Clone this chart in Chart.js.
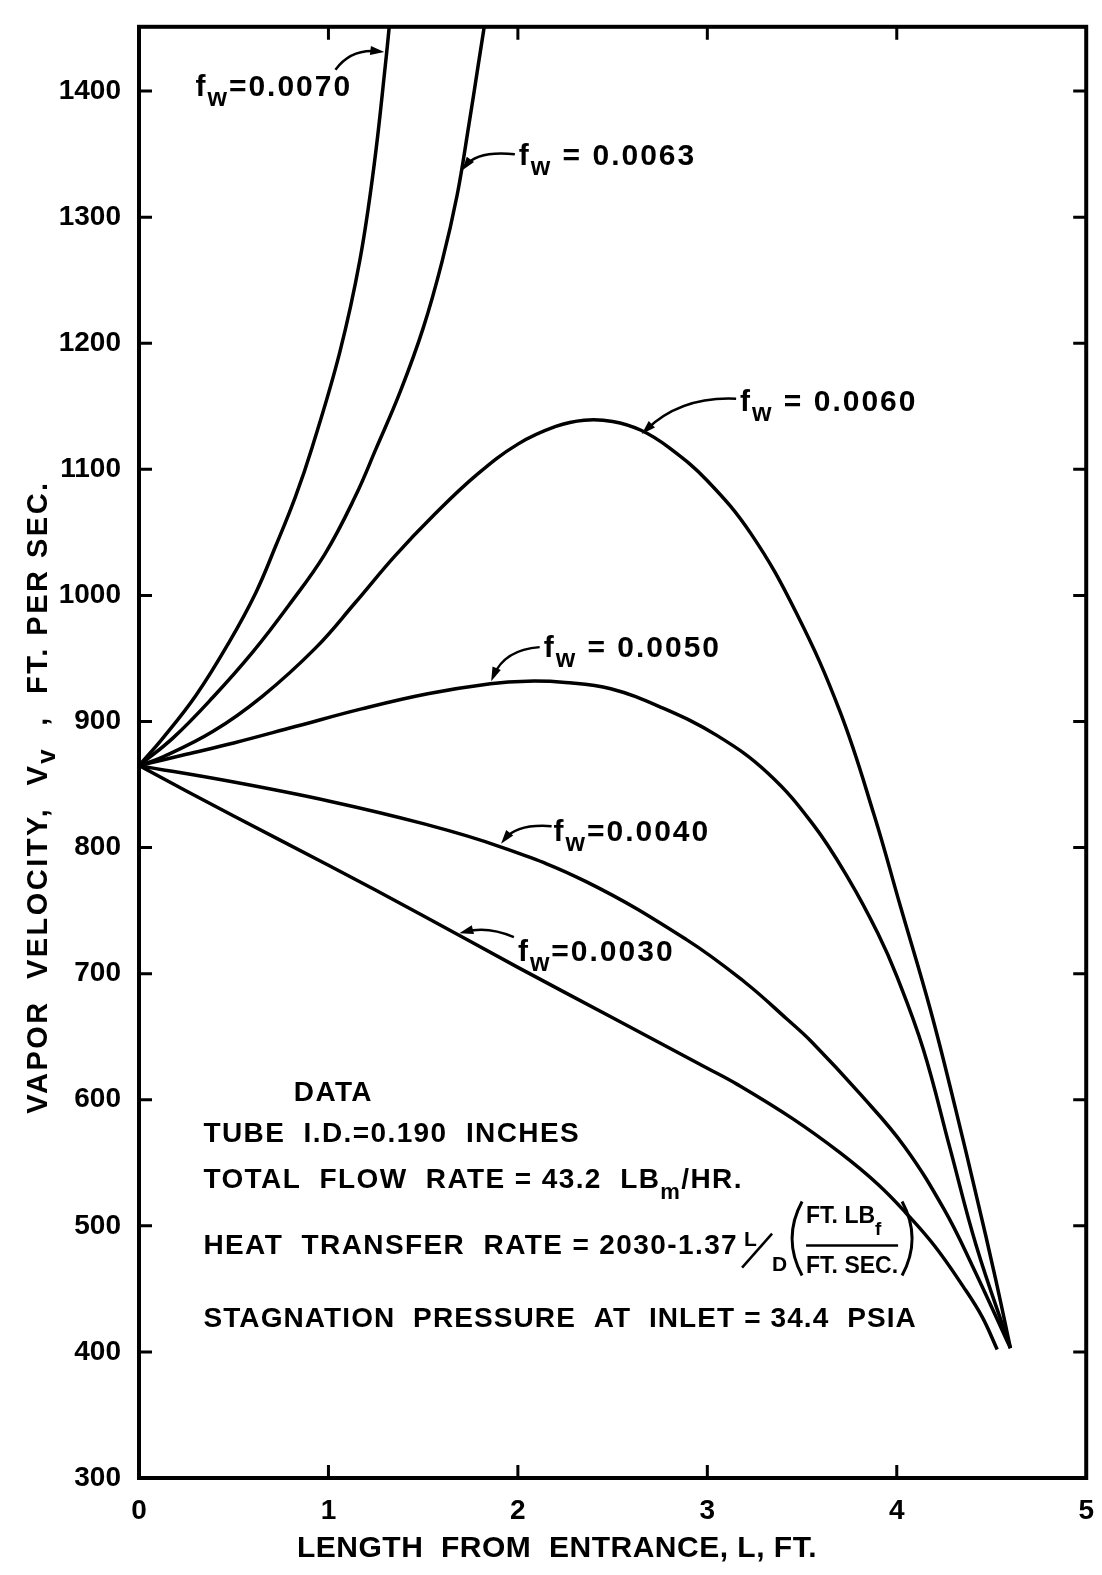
<!DOCTYPE html>
<html>
<head>
<meta charset="utf-8">
<script src="https://cdn.jsdelivr.net/npm/chart.js@4.4.1/dist/chart.umd.min.js"></script>
<style>
  html, body { margin: 0; padding: 0; background: #fff; }
  #wrap { width: 1102px; height: 1575px; position: relative; }
</style>
</head>
<body>
<div id="wrap"><canvas id="chart"></canvas></div>
<script>
// Vapor velocity along the tube, one curve per wall friction factor f_w
const xTicks = [0, 1, 2, 3, 4, 5];
const yTicks = [300, 400, 500, 600, 700, 800, 900, 1000, 1100, 1200, 1300, 1400];

// length from entrance (ft) / vapor velocity (ft per sec)
const fw0070X = [0, 0.127, 0.302, 0.476, 0.616, 0.721, 0.825, 0.913, 1.06, 1.166, 1.24, 1.30, 1.33];
const fw0070V = [865, 887, 921, 963, 1002, 1039, 1078, 1117, 1193, 1266, 1340, 1420, 1465];

const fw0063X = [0, 0.18, 0.389, 0.6, 0.79, 0.982, 1.14, 1.253, 1.38, 1.50, 1.60, 1.68, 1.74, 1.79, 1.84];
const fw0063V = [865, 887, 919, 955, 992, 1033, 1078, 1117, 1162, 1212, 1265, 1318, 1372, 1420, 1468];

const fw0060X = [0, 0.127, 0.389, 0.651, 0.93, 1.14, 1.349, 1.558, 1.785, 2.0, 2.2, 2.35, 2.5, 2.65, 2.8, 3.0, 3.23, 3.47, 3.7, 3.88, 4.02, 4.18, 4.31, 4.42, 4.52, 4.6];
const fw0060V = [865, 872, 892, 920, 958, 994, 1031, 1064, 1096, 1120, 1134, 1139, 1138, 1131, 1117, 1091, 1049, 986, 908, 826, 753, 670, 593, 524, 459, 403];

const fw0050X = [0, 0.25, 0.5, 0.825, 1.175, 1.524, 1.855, 2.05, 2.25, 2.49, 2.76, 3.05, 3.32, 3.56, 3.75, 3.9, 4.0, 4.14, 4.28, 4.42, 4.6];
const fw0050V = [865, 874, 883, 896, 910, 922, 930, 932, 931, 926, 911, 889, 859, 818, 774, 732, 698, 640, 562, 484, 403];

const fw0040X = [0, 0.5, 1.0, 1.5, 1.9, 2.36, 2.89, 3.2, 3.42, 3.55, 3.81, 4.04, 4.25, 4.4, 4.6];
const fw0040V = [865, 852, 837, 819, 801, 773, 727, 693, 664, 646, 604, 563, 513, 468, 403];

const fw0030X = [0, 0.5, 1.0, 1.5, 2.0, 2.5, 3.0, 3.16, 3.45, 3.7, 3.9, 4.05, 4.2, 4.35, 4.45, 4.53];
const fw0030V = [865, 825, 786, 746, 705, 665, 625, 612, 585, 558, 533, 510, 484, 452, 428, 402];

const series = [
  { name: '0.0070', xs: fw0070X, vs: fw0070V },
  { name: '0.0063', xs: fw0063X, vs: fw0063V },
  { name: '0.0060', xs: fw0060X, vs: fw0060V },
  { name: '0.0050', xs: fw0050X, vs: fw0050V },
  { name: '0.0040', xs: fw0040X, vs: fw0040V },
  { name: '0.0030', xs: fw0030X, vs: fw0030V }
];

// curve labels, placed in data units: text start, arrow start, control, tip
const curveLabels = [
  { text: '=0.0070', at: [0.298, 1396], from: [1.037, 1417], ctrl: [1.12, 1434], tip: [1.295, 1431] },
  { text: ' = 0.0063', at: [2.005, 1341], from: [1.984, 1350], ctrl: [1.785, 1353], tip: [1.705, 1337] },
  { text: ' = 0.0060', at: [3.173, 1146], from: [3.152, 1156], ctrl: [2.86, 1158], tip: [2.654, 1128] },
  { text: ' = 0.0050', at: [2.136, 951], from: [2.115, 959], ctrl: [1.93, 957], tip: [1.859, 932] },
  { text: '=0.0040', at: [2.188, 805], from: [2.178, 817], ctrl: [1.995, 819], tip: [1.911, 803] },
  { text: '=0.0030', at: [2.0, 710], from: [1.979, 729], ctrl: [1.84, 738], tip: [1.691, 732] }
];

const FAM = '"Liberation Sans", Arial, sans-serif';
const font = size => `bold ${size}px ${FAM}`;

// draw consecutive text pieces (for subscripts), returns end x
function runs(ctx, parts, x0, y0, spacing) {
  let x = x0;
  parts.forEach(p => {
    ctx.font = font(p.size);
    ctx.letterSpacing = (p.ls !== undefined ? p.ls : spacing) + 'px';
    ctx.fillText(p.t, x, y0 + (p.dy || 0));
    x += ctx.measureText(p.t).width;
  });
  return x;
}

function arrow(ctx, p0, c, p1) {
  const ang = Math.atan2(p1[1] - c[1], p1[0] - c[0]);
  const L = 14, W = 4.5;
  const cs = Math.cos(ang), sn = Math.sin(ang);
  ctx.beginPath();
  ctx.moveTo(p0[0], p0[1]);
  ctx.quadraticCurveTo(c[0], c[1], p1[0] - cs * 6, p1[1] - sn * 6);
  ctx.stroke();
  ctx.beginPath();
  ctx.moveTo(p1[0], p1[1]);
  ctx.lineTo(p1[0] - L * cs + W * sn, p1[1] - L * sn - W * cs);
  ctx.lineTo(p1[0] - L * cs - W * sn, p1[1] - L * sn + W * cs);
  ctx.closePath();
  ctx.fill();
}

const decorations = {
  id: 'decorations',
  afterDraw(chart) {
    const { ctx, chartArea: a, scales: { x, y } } = chart;
    const P = (dx, dv) => [x.getPixelForValue(dx), y.getPixelForValue(dv)];
    ctx.save();
    ctx.strokeStyle = '#000';
    ctx.fillStyle = '#000';
    ctx.lineCap = 'butt';

    // frame
    ctx.lineWidth = 4;
    ctx.strokeRect(a.left, a.top, a.right - a.left, a.bottom - a.top);

    // inward tick marks on all four sides
    const tl = 13;
    ctx.lineWidth = 3;
    ctx.beginPath();
    yTicks.forEach(v => {
      if (v === 300) return;
      const py = y.getPixelForValue(v);
      ctx.moveTo(a.left, py); ctx.lineTo(a.left + tl, py);
      ctx.moveTo(a.right, py); ctx.lineTo(a.right - tl, py);
    });
    xTicks.forEach(v => {
      if (v === 0 || v === 5) return;
      const px = x.getPixelForValue(v);
      ctx.moveTo(px, a.bottom); ctx.lineTo(px, a.bottom - tl);
      ctx.moveTo(px, a.top); ctx.lineTo(px, a.top + tl);
    });
    ctx.stroke();

    ctx.textAlign = 'left';
    ctx.textBaseline = 'alphabetic';

    // curve labels with arrows
    ctx.lineWidth = 2.5;
    curveLabels.forEach(l => {
      const [tx, ty] = P(l.at[0], l.at[1]);
      runs(ctx, [{ t: 'f', size: 30 }, { t: 'w', size: 25, dy: 10 }, { t: l.text, size: 30 }], tx, ty, 2);
      arrow(ctx, P(...l.from), P(...l.ctrl), P(...l.tip));
    });

    // data block
    let [bx, by] = P(0.817, 599);
    runs(ctx, [{ t: 'DATA', size: 28 }], bx, by, 1.4);
    [bx, by] = P(0.34, 566.7);
    runs(ctx, [{ t: 'TUBE  I.D.=0.190  INCHES', size: 28 }], bx, by, 1.4);
    [bx, by] = P(0.34, 529.7);
    runs(ctx, [{ t: 'TOTAL  FLOW  RATE = 43.2  LB', size: 28 }, { t: 'm', size: 22, dy: 11 }, { t: '/HR.', size: 28 }], bx, by, 1.4);
    [bx, by] = P(0.34, 419.6);
    runs(ctx, [{ t: 'STAGNATION  PRESSURE  AT  INLET = 34.4  PSIA', size: 28 }], bx, by, 1.1);

    // heat transfer line with L/D and the unit fraction
    let B;
    [bx, B] = P(0.34, 478);
    const xe = runs(ctx, [{ t: 'HEAT  TRANSFER  RATE = 2030-1.37', size: 28 }], bx, B, 1.4);
    const x0 = xe + 4;
    runs(ctx, [{ t: 'L', size: 21 }], x0 + 2, B - 8, 0);
    runs(ctx, [{ t: 'D', size: 21 }], x0 + 30, B + 17, 0);
    ctx.lineWidth = 2.5;
    ctx.beginPath(); ctx.moveTo(x0, B + 14); ctx.lineTo(x0 + 30, B - 20); ctx.stroke();
    const p = x0 + 50;
    ctx.lineWidth = 3;
    ctx.beginPath(); ctx.moveTo(p + 10, B - 52); ctx.quadraticCurveTo(p - 10, B - 15, p + 10, B + 22); ctx.stroke();
    const nx = p + 14;
    const ne = runs(ctx, [{ t: 'FT. LB', size: 23 }, { t: 'f', size: 19, dy: 12 }], nx, B - 31, 0);
    const de = runs(ctx, [{ t: 'FT. SEC.', size: 23 }], nx, B + 19, 0);
    const fr = Math.max(ne, de);
    ctx.lineWidth = 2.5;
    ctx.beginPath(); ctx.moveTo(nx, B - 8); ctx.lineTo(fr, B - 8); ctx.stroke();
    ctx.lineWidth = 3;
    ctx.beginPath(); ctx.moveTo(fr + 4, B - 52); ctx.quadraticCurveTo(fr + 24, B - 15, fr + 4, B + 22); ctx.stroke();

    // axis titles
    const xt = 'LENGTH  FROM  ENTRANCE, L, FT.';
    ctx.font = font(30);
    ctx.letterSpacing = '0.5px';
    const xw = ctx.measureText(xt).width;
    ctx.fillText(xt, 557 - xw / 2, 1557);

    ctx.translate(37, 797);
    ctx.rotate(-Math.PI / 2);
    const yParts = [
      { t: 'VAPOR  VELOCITY,  V', size: 29 },
      { t: 'v', size: 26, dy: 8 },
      { t: '  ,  FT. PER SEC.', size: 29 }
    ];
    let yw = 0;
    yParts.forEach(q => { ctx.font = font(q.size); ctx.letterSpacing = '2.5px'; yw += ctx.measureText(q.t).width; });
    runs(ctx, yParts, -yw / 2, 10, 2.5);
    ctx.restore();
  }
};

const ctxEl = document.getElementById('chart');
Chart.defaults.font.family = FAM;
Chart.defaults.color = '#000';

new Chart(ctxEl, {
  type: 'scatter',
  data: {
    datasets: series.map(s => ({
      label: 'f_w = ' + s.name,
      data: s.xs.map((xv, i) => ({ x: xv, y: s.vs[i] })),
      showLine: true,
      borderColor: '#000',
      borderWidth: 3.5,
      pointRadius: 0,
      fill: false,
      tension: 0.4,
      clip: 0
    }))
  },
  options: {
    responsive: true,
    maintainAspectRatio: false,
    animation: false,
    events: [],
    layout: { padding: { top: 15, right: 9, left: 0, bottom: 0 } },
    plugins: { legend: { display: false }, tooltip: { enabled: false } },
    scales: {
      x: {
        type: 'linear',
        min: 0,
        max: 5,
        grid: { display: false },
        border: { display: false },
        ticks: { stepSize: 1, padding: 8, font: { size: 28, weight: 'bold' }, color: '#000', maxRotation: 0,
                 callback: v => String(v) },
        afterFit: sc => { sc.height = 97; }
      },
      y: {
        type: 'linear',
        min: 300,
        max: 1451,
        grid: { display: false },
        border: { display: false },
        ticks: { stepSize: 100, padding: 10, font: { size: 28, weight: 'bold' }, color: '#000',
                 callback: v => String(v) },
        afterBuildTicks: sc => { sc.ticks = sc.ticks.filter(t => t.value % 100 === 0); },
        afterFit: sc => { sc.width = 139; }
      }
    }
  },
  plugins: [decorations]
});
</script>
</body>
</html>
